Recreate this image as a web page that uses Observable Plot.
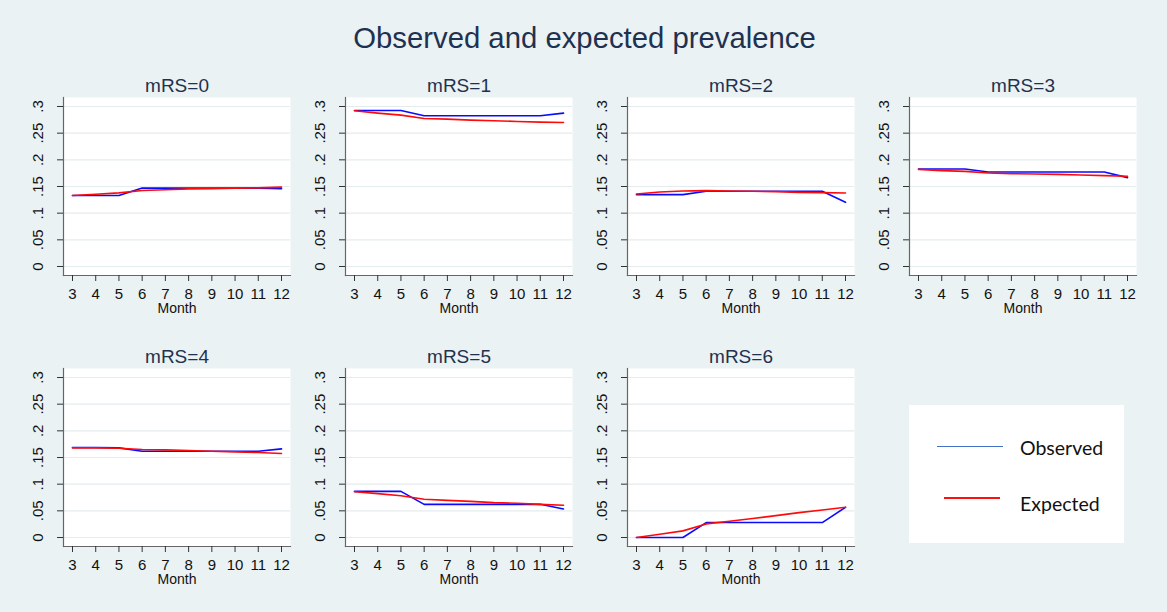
<!DOCTYPE html>
<html>
<head>
<meta charset="utf-8">
<script src="https://cdn.jsdelivr.net/npm/d3@7"></script>
<script src="https://cdn.jsdelivr.net/npm/@observablehq/plot@0.6"></script>
<style>
  html, body { margin: 0; padding: 0; background: #EAF2F3; }
  #page { position: relative; width: 1167px; height: 612px; background: #EAF2F3; overflow: hidden; font-family: "Liberation Sans", Arial, sans-serif; }
  #title { position: absolute; left: 0; width: 1169px; top: 20px; text-align: center; font-size: 29.3px; line-height: 36px; color: #1F3150; }
  #legend { position: absolute; left: 909px; top: 405px; width: 215px; height: 138px; background: #fff; font-family: Lato, "Open Sans", sans-serif; color: #111; }
  .sw { position: absolute; height: 1.6px; }
  .lt { position: absolute; font-size: 19.5px; line-height: 24px; }
</style>
</head>
<body>
<div id="page">
  <div id="title">Observed and expected prevalence</div>
  <div id="legend">
    <div class="sw" style="left:28px;top:40.5px;width:66px;background:#4472C4"></div>
    <div class="lt" style="left:111px;top:31px">Observed</div>
    <div class="sw" style="left:35px;top:92px;width:56px;background:#FF1010"></div>
    <div class="lt" style="left:111px;top:87px">Expected</div>
  </div>
</div>
<script>
const months = [3, 4, 5, 6, 7, 8, 9, 10, 11, 12];
const panelTitles = ["mRS=0", "mRS=1", "mRS=2", "mRS=3", "mRS=4", "mRS=5", "mRS=6"];
const yTicks = [0, 0.05, 0.1, 0.15, 0.2, 0.25, 0.3];
const yTickLabels = ["0", ".05", ".1", ".15", ".2", ".25", ".3"];

const observedMRS0 = [0.133, 0.133, 0.133, 0.147, 0.147, 0.147, 0.147, 0.147, 0.147, 0.146];
const expectedMRS0 = [0.133, 0.1355, 0.138, 0.1425, 0.144, 0.1455, 0.146, 0.147, 0.1475, 0.1488];
const observedMRS1 = [0.2926, 0.2926, 0.2926, 0.2826, 0.2826, 0.2826, 0.2826, 0.2826, 0.2826, 0.2876];
const expectedMRS1 = [0.292, 0.2876, 0.2838, 0.2776, 0.2764, 0.2745, 0.2733, 0.272, 0.2707, 0.2701];
const observedMRS2 = [0.1347, 0.1347, 0.1347, 0.141, 0.141, 0.141, 0.141, 0.141, 0.141, 0.1204];
const expectedMRS2 = [0.136, 0.1397, 0.1416, 0.1422, 0.1416, 0.141, 0.1404, 0.139, 0.1385, 0.1379];
const observedMRS3 = [0.1828, 0.1828, 0.1828, 0.1772, 0.1772, 0.1772, 0.1772, 0.1772, 0.1772, 0.1666];
const expectedMRS3 = [0.1822, 0.1797, 0.1784, 0.1753, 0.174, 0.1734, 0.1728, 0.1716, 0.1703, 0.1691];
const observedMRS4 = [0.1687, 0.1687, 0.168, 0.1618, 0.1618, 0.1618, 0.1618, 0.1618, 0.1618, 0.1662];
const expectedMRS4 = [0.168, 0.168, 0.1674, 0.165, 0.1643, 0.1631, 0.1618, 0.1606, 0.1593, 0.1575];
const observedMRS5 = [0.0865, 0.0865, 0.0865, 0.0622, 0.0622, 0.0622, 0.0622, 0.0622, 0.0622, 0.0535];
const expectedMRS5 = [0.0859, 0.0822, 0.0784, 0.0716, 0.0697, 0.0678, 0.0654, 0.0641, 0.0622, 0.0604];
const observedMRS6 = [0, 0, 0, 0.028, 0.028, 0.028, 0.028, 0.028, 0.028, 0.0566];
const expectedMRS6 = [0, 0.0062, 0.0124, 0.0255, 0.0305, 0.0355, 0.041, 0.0467, 0.0517, 0.0566];

const observedAll = [observedMRS0, observedMRS1, observedMRS2, observedMRS3, observedMRS4, observedMRS5, observedMRS6];
const expectedAll = [expectedMRS0, expectedMRS1, expectedMRS2, expectedMRS3, expectedMRS4, expectedMRS5, expectedMRS6];

const page = document.getElementById("page");
const svgLefts = [8, 290, 572, 854];
const svgTops = [67, 338];

panelTitles.forEach((title, p) => {
  const obs = months.map((m, i) => ({month: m, value: observedAll[p][i]}));
  const exp = months.map((m, i) => ({month: m, value: expectedAll[p][i]}));
  const chart = Plot.plot({
    width: 282,
    height: 254,
    marginLeft: 55,
    marginRight: 0,
    marginTop: 30,
    marginBottom: 46,
    style: {background: "transparent", fontFamily: "'Liberation Sans', Arial, sans-serif", overflow: "visible"},
    x: {domain: [3, 12], inset: 9},
    y: {domain: [0, 0.3], inset: 9},
    marks: [
      Plot.frame({fill: "white", stroke: null}),
      Plot.gridY(yTicks, {stroke: "#E4ECEE", strokeOpacity: 1, strokeWidth: 1.2}),
      Plot.frame({anchor: "left", stroke: "#666", strokeWidth: 1.2}),
      Plot.frame({anchor: "bottom", stroke: "#666", strokeWidth: 1.2}),
      Plot.axisY(yTicks, {tickRotate: -90, tickSize: 6, tickPadding: 15, fontSize: 15,
        tickFormat: d => yTickLabels[yTicks.indexOf(d)], label: null, stroke: "#333", fill: "#111"}),
      Plot.axisX(months, {tickSize: 6, tickPadding: 6.5, fontSize: 15, tickFormat: d => String(d), label: null, stroke: "#333", fill: "#111"}),
      Plot.line(obs, {x: "month", y: "value", stroke: "#0A0AFF", strokeWidth: 1.6}),
      Plot.line(exp, {x: "month", y: "value", stroke: "#FF0A0A", strokeWidth: 1.6}),
      Plot.text([title], {frameAnchor: "top", dy: -19, fontSize: 19, fill: "#1F3150"}),
      Plot.text(["Month"], {frameAnchor: "bottom", dy: 37, fontSize: 14, fill: "#111"})
    ]
  });
  chart.style.position = "absolute";
  chart.style.left = svgLefts[p % 4] + "px";
  chart.style.top = svgTops[Math.floor(p / 4)] + "px";
  page.appendChild(chart);
});
</script>
</body>
</html>
